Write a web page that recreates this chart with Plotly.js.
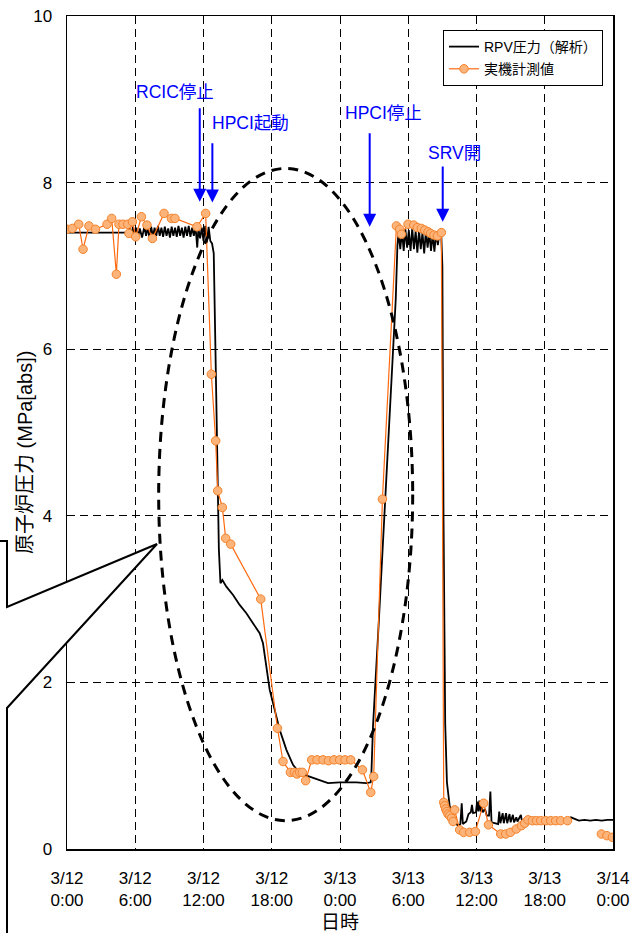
<!DOCTYPE html>
<html>
<head>
<meta charset="utf-8">
<script src="https://cdn.plot.ly/plotly-3.0.1.min.js"></script>
<style>html,body{margin:0;padding:0;background:#fff;}#chart{width:631px;height:933px;}</style>
</head>
<body>
<div id="chart"></div>
<script>
// ---- data (hours since 3/12 0:00, pressure MPa[abs]) ----
const xTickVals = [0, 6, 12, 18, 24, 30, 36, 42, 48];
const xTickText = ["3/12<br>0:00", "3/12<br>6:00", "3/12<br>12:00", "3/12<br>18:00",
  "3/13<br>0:00", "3/13<br>6:00", "3/13<br>12:00", "3/13<br>18:00", "3/14<br>0:00"];
const yTickVals = [0, 2, 4, 6, 8, 10];

const rpvTime = [0, 5.35, 5.5, 5.65, 5.8, 5.95, 6.1, 6.25, 6.4, 6.6, 6.8, 6.95, 7.1, 7.25, 7.4, 7.55, 7.7, 7.85,
  8.0, 8.15, 8.3, 8.45, 8.6, 8.75, 8.9, 9.05, 9.2, 9.35, 9.5, 9.65, 9.8, 9.95, 10.1, 10.25, 10.4, 10.55,
  10.7, 10.85, 11.0, 11.15, 11.3, 11.45, 11.55, 11.7, 11.85, 12.0, 12.15, 12.3, 12.45, 12.6, 12.75, 12.9,
  13.05, 13.2, 13.35, 13.49, 13.66, 14.01, 14.6, 15.18, 15.77, 16.35, 16.94, 17.23, 17.53, 17.82, 18.26,
  18.7, 19.29, 19.87, 20.46, 21.34, 22.22, 22.95, 23.97, 25.44, 26.32, 26.70, 26.76, 26.9, 27.42, 28.9,
  29.05, 29.15, 29.3, 29.45, 29.6, 29.75, 29.9, 30.05, 30.2, 30.35, 30.5, 30.65, 30.8, 30.95, 31.1, 31.25,
  31.4, 31.55, 31.7, 31.85, 32.0, 32.15, 32.3, 32.45, 32.6, 32.75, 32.9, 33.0, 33.1, 33.25, 33.4, 33.65,
  33.94, 34.37, 34.58, 34.7, 34.8, 35.1, 35.3, 35.5, 35.6, 35.7, 35.95, 36.05, 36.15, 36.25, 36.35, 36.45,
  36.55, 36.75, 36.9, 37.1, 37.22, 37.32, 37.6, 37.9, 38.0, 38.1, 38.3, 38.4, 38.6, 38.7, 38.9, 39.0, 39.2,
  39.3, 39.5, 39.6, 39.9, 40.0, 40.5, 41.0, 41.5, 42.0, 42.5, 43.0, 43.5, 44.0, 44.3, 44.6, 45.0, 45.5,
  46.0, 46.5, 47.0, 47.5, 48.3];
const rpvPressure = [7.40, 7.40, 7.46, 7.36, 7.47, 7.37, 7.46, 7.35, 7.45, 7.34, 7.47, 7.36, 7.46, 7.34, 7.47,
  7.35, 7.46, 7.36, 7.48, 7.36, 7.46, 7.35, 7.47, 7.36, 7.45, 7.34, 7.47, 7.36, 7.46, 7.35, 7.48, 7.36, 7.46,
  7.34, 7.47, 7.36, 7.48, 7.35, 7.46, 7.36, 7.47, 7.22, 7.45, 7.33, 7.46, 7.30, 7.48, 7.28, 7.47, 7.30, 7.27,
  7.15, 6.0, 4.8, 3.6, 3.19, 3.23, 3.15, 3.05, 2.93, 2.83, 2.71, 2.59, 2.47, 2.19, 1.91, 1.67, 1.43, 1.19,
  1.01, 0.91, 0.87, 0.83, 0.79, 0.80, 0.80, 0.79, 0.80, 0.91, 1.47, 2.75, 6.6, 7.25, 7.40, 7.20, 7.42, 7.18,
  7.44, 7.22, 7.43, 7.18, 7.45, 7.20, 7.42, 7.16, 7.43, 7.20, 7.40, 7.15, 7.42, 7.22, 7.40, 7.18, 7.38, 7.17,
  7.40, 7.25, 7.40, 7.38, 7.0, 4.0, 1.5, 0.8, 0.51, 0.35, 0.28, 0.30, 0.55, 0.30, 0.33, 0.42, 0.44, 0.53,
  0.43, 0.44, 0.57, 0.45, 0.58, 0.45, 0.53, 0.44, 0.48, 0.40, 0.40, 0.69, 0.32, 0.31, 0.30, 0.45, 0.31, 0.43,
  0.31, 0.43, 0.31, 0.42, 0.32, 0.41, 0.32, 0.38, 0.33, 0.41, 0.33, 0.34, 0.35, 0.33, 0.35, 0.34, 0.35, 0.34,
  0.35, 0.38, 0.36, 0.34, 0.35, 0.34, 0.35, 0.34, 0.35, 0.35];

const measTime = [0, 0.47, 1.03, 1.41, 1.93, 2.50, 3.52, 3.93, 4.34, 4.57, 4.92, 5.34, 5.45, 5.75, 6.04, 6.54,
  7.03, 7.51, 8.53, 9.18, 9.49, 11.43, 12.19, 12.69, 13.07, 13.25, 13.66, 13.95, 14.39, 17.03, 18.50, 18.99,
  19.64, 19.99, 20.22, 20.46, 20.69, 20.98, 21.51, 21.98, 22.51, 22.98, 23.47, 23.97, 24.44, 24.94, 25.97,
  26.70, 26.96, 27.73, 28.96, 29.25, 29.40, 29.98, 30.48, 30.80, 31.15, 31.45, 31.74, 31.97, 32.26, 32.56,
  32.91, 33.12, 33.20, 33.29, 33.40, 33.50, 33.65, 33.80, 33.94, 34.08, 34.52, 34.87, 35.40, 35.90, 36.63,
  37.05, 38.13, 38.57, 38.98, 39.50, 39.95, 40.24, 40.53, 40.91, 41.27, 41.64, 42.08, 42.52, 42.96, 43.40,
  44.00, 45.50, 46.98, 47.47, 47.95];
const measPressure = [7.44, 7.45, 7.50, 7.20, 7.48, 7.44, 7.50, 7.57, 6.90, 7.50, 7.50, 7.50, 7.39, 7.53, 7.35,
  7.59, 7.49, 7.33, 7.63, 7.57, 7.57, 7.47, 7.63, 5.70, 4.90, 4.30, 4.10, 3.73, 3.66, 3.00, 1.45, 1.05, 0.92,
  0.92, 0.90, 0.92, 0.92, 0.82, 1.07, 1.07, 1.07, 1.06, 1.07, 1.07, 1.07, 1.07, 0.95, 0.68, 0.87, 4.20, 7.48,
  7.44, 7.38, 7.50, 7.49, 7.46, 7.45, 7.43, 7.41, 7.39, 7.37, 7.36, 7.40, 0.56, 0.52, 0.48, 0.45, 0.42, 0.40,
  0.37, 0.33, 0.47, 0.23, 0.20, 0.20, 0.21, 0.55, 0.29, 0.18, 0.18, 0.20, 0.24, 0.28, 0.31, 0.35, 0.34, 0.34,
  0.34, 0.34, 0.34, 0.34, 0.34, 0.34, null, 0.18, 0.16, 0.14];

// ---- layout helpers ----
const W = 631, H = 933;
const M = {l: 67, r: 18, t: 16, b: 84};
const PW = W - M.l - M.r, PH = H - M.t - M.b;
function px(x) { return (x - M.l) / PW; }
function py(y) { return (H - M.b - y) / PH; }

const FONT = "'Liberation Sans', Arial, 'Noto Sans CJK JP', sans-serif";
const BLUE = "#0000FF";

const traces = [
  {
    x: rpvTime, y: rpvPressure, type: "scatter", mode: "lines",
    name: "RPV圧力（解析）", legendgroup: "a",
    line: {color: "#000000", width: 1.8}
  },
  {
    x: measTime, y: measPressure, type: "scatter", mode: "lines+markers",
    name: "実機計測値", legendgroup: "b", connectgaps: false,
    line: {color: "#FF6A10", width: 1.2},
    marker: {symbol: "circle", size: 8.5, color: "#FDB47A", line: {color: "#F5822A", width: 1}}
  }
];

function arrow(x, yTip, yTail) {
  return {x: x, y: yTip, ax: x, ay: yTail, xref: "x", yref: "y", axref: "x", ayref: "y",
    showarrow: true, arrowhead: 2, arrowsize: 1.3, arrowwidth: 2, arrowcolor: BLUE, text: "", standoff: 0};
}
function label(x, y, t) {
  return {x: x, y: y, xref: "x", yref: "y", text: t, showarrow: false,
    xanchor: "center", yanchor: "middle", font: {family: FONT, size: 17.5, color: BLUE}};
}

const layout = {
  width: W, height: H,
  margin: M,
  paper_bgcolor: "#ffffff", plot_bgcolor: "#ffffff",
  font: {family: FONT, size: 17, color: "#000000"},
  showlegend: true,
  legend: {
    x: px(443), y: py(30), xanchor: "left", yanchor: "top",
    bgcolor: "#ffffff", bordercolor: "#000000", borderwidth: 1,
    font: {family: FONT, size: 14, color: "#000000"},
    tracegroupgap: 1, traceorder: "grouped"
  },
  xaxis: {
    range: [0, 48], tickmode: "array", tickvals: xTickVals, ticktext: xTickText,
    showgrid: true, gridcolor: "#000000", gridwidth: 1, griddash: "8px,5px",
    zeroline: false, showline: true, mirror: true, linecolor: "#000000", linewidth: 1.5,
    ticks: "", ticklabelstandoff: 13,
    tickfont: {family: FONT, size: 17, color: "#000000"},
    title: {text: "日時", font: {family: FONT, size: 19, color: "#000000"}, standoff: 8}
  },
  yaxis: {
    range: [0, 10], tickmode: "array", tickvals: yTickVals,
    showgrid: true, gridcolor: "#000000", gridwidth: 1, griddash: "8px,5px",
    zeroline: false, showline: true, mirror: true, linecolor: "#000000", linewidth: 1.5,
    ticks: "", ticklabelstandoff: 10,
    tickfont: {family: FONT, size: 17, color: "#000000"}
  },
  annotations: [
    arrow(11.67, 7.77, 8.91),
    arrow(12.78, 7.76, 8.49),
    arrow(26.61, 7.47, 8.61),
    arrow(33.03, 7.53, 8.21),
    label(9.51, 9.09, "RCIC停止"),
    label(16.1, 8.71, "HPCI起動"),
    label(27.84, 8.83, "HPCI停止"),
    label(34.08, 8.35, "SRV開"),
    {x: px(25), y: py(453), xref: "paper", yref: "paper", text: "原子炉圧力 (MPa[abs])",
      showarrow: false, textangle: -90, xanchor: "center", yanchor: "middle",
      font: {family: FONT, size: 20, color: "#000000"}}
  ],
  shapes: [
    {type: "circle", xref: "x", yref: "y", x0: 8.06, x1: 30.39, y0: 0.34, y1: 8.17,
      line: {color: "#000000", width: 3, dash: "10px,7px"}, layer: "above"},
    {type: "path", xref: "paper", yref: "paper", layer: "above",
      path: "M " + px(-5) + "," + py(541) + " L " + px(7) + "," + py(541) + " L " + px(7) + "," + py(607) +
        " L " + px(157) + "," + py(544) + " L " + px(7) + "," + py(708) + " L " + px(7) + "," + py(945) +
        " L " + px(-5) + "," + py(945) + " Z",
      fillcolor: "#ffffff", line: {color: "#000000", width: 2}}
  ]
};

Plotly.newPlot("chart", traces, layout, {displayModeBar: false, staticPlot: true});
</script>
</body>
</html>
